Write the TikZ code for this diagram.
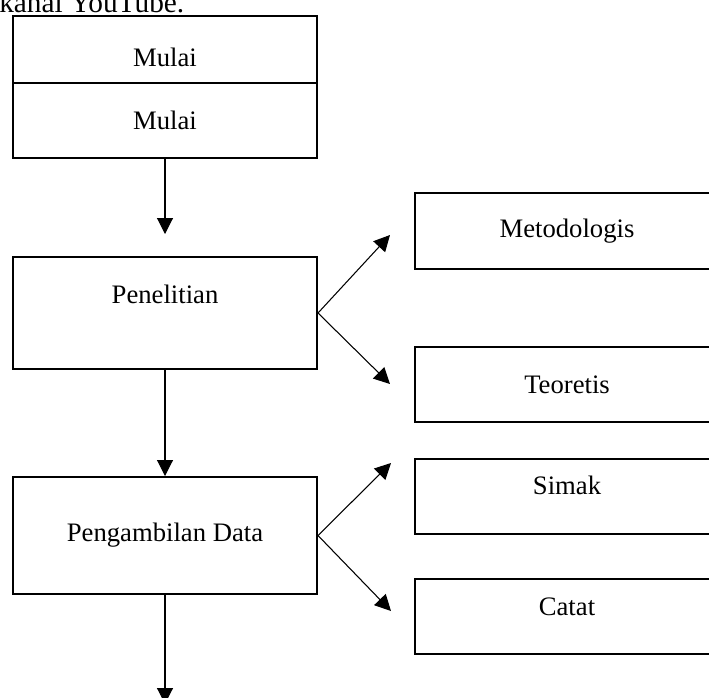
\documentclass[tikz,border=0pt]{standalone}
\usepackage{fontspec}
\setmainfont{Liberation Serif}
\usetikzlibrary{arrows.meta}

\tikzset{
  box/.style={draw, line width=1.5pt, inner sep=0pt, minimum width=228pt, font=\fontsize{20}{24}\selectfont},
  arr/.style={line width=0.8pt, -{Triangle[length=12pt,width=12pt]}}
}

\begin{document}
\begin{tikzpicture}[x=0.75pt, y=-0.75pt]
\useasboundingbox (0,0) rectangle (709,697);
\node [anchor=base west, inner sep=0pt, font=\fontsize{22}{26}\selectfont] (judul) at (-1,12) {kanal YouTube.};
\node [box, minimum height=50.25pt, text height=30pt, text depth=4pt] (mulai1) at (165,49.5) {Mulai};
\node [box, minimum height=56.25pt] (mulai2) at (165,120.5) {Mulai};
\node [box, minimum height=84pt, text height=15pt, text depth=28.8pt] (pen) at (165,313) {Penelitian};
\node [box, minimum height=87.75pt] (ambil) at (165,535.5) {Pengambilan Data};
\node [box, minimum height=57pt] (meto) at (567,231) {Metodologis};
\node [box, minimum height=56.25pt] (teori) at (567,384.5) {Teoretis};
\node [box, minimum height=56.25pt, text height=15pt, text depth=17.6pt] (simak) at (567,496.5) {Simak};
\node [box, minimum height=56.25pt, text height=15pt, text depth=16pt] (catat) at (567,616.5) {Catat};
\coordinate (a1) at (165,234);
\coordinate (a2) at (165,704);
\coordinate (m1) at (390,235);
\coordinate (t1) at (390,384);
\coordinate (s1) at (391,463);
\coordinate (c1) at (391,611);
\draw [arr] (mulai2) -- (a1);
\draw [arr] (pen) -- (ambil);
\draw [arr] (ambil) -- (a2);
\draw [arr] (pen.east) -- (m1);
\draw [arr] (pen.east) -- (t1);
\draw [arr] (ambil.east) -- (s1);
\draw [arr] (ambil.east) -- (c1);
\end{tikzpicture}
\end{document}
